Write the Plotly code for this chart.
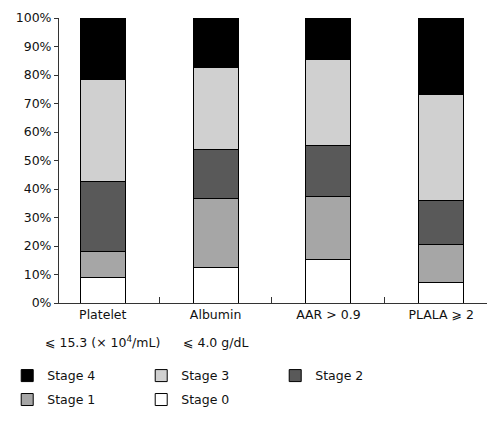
import plotly.graph_objects as go

categories = ["Platelet", "Albumin", "AAR > 0.9", "PLALA ⩾ 2"]
sublabels = ["⩽ 15.3 (× 10<sup>4</sup>/mL)", "⩽ 4.0 g/dL", "", ""]
stages = ["Stage 0", "Stage 1", "Stage 2", "Stage 3", "Stage 4"]
stage0 = [8.8, 12.3, 15.1, 7.2]
stage1 = [9.4, 24.2, 22.3, 13.5]
stage2 = [24.3, 17.3, 17.8, 15.1]
stage3 = [35.9, 28.7, 30.4, 37.5]
stage4 = [21.6, 17.5, 14.4, 26.7]
series = [stage0, stage1, stage2, stage3, stage4]
colors = ["#ffffff", "#a6a6a6", "#595959", "#d0d0d0", "#000000"]
legend_rows = ["legend2", "legend2", "legend", "legend", "legend"]

FONT = "DejaVu Sans"
TXT = "#111111"
AX = "#333333"

fig = go.Figure()
for name, vals, col, lg in zip(stages, series, colors, legend_rows):
    fig.add_trace(go.Bar(
        x=categories, y=vals, name=name, legend=lg,
        marker=dict(color=col, line=dict(color="#000000", width=1)),
        width=0.4,
    ))

for cat, sub in zip(categories, sublabels):
    if sub:
        fig.add_annotation(x=cat, xref="x", y=-0.137, yref="paper",
                           text=sub, showarrow=False, yanchor="middle",
                           font=dict(family=FONT, size=12.5, color=TXT))

legfont = dict(family=FONT, size=12.5, color=TXT)
fig.update_layout(
    width=492, height=416,
    barmode="stack",
    paper_bgcolor="white", plot_bgcolor="white",
    margin=dict(l=51, r=13, t=10, b=121, autoexpand=False),
    font=dict(family=FONT, size=12.5, color=TXT),
    showlegend=True,
    legend=dict(orientation="h", traceorder="reversed",
                x=-0.121, xanchor="left", y=-0.256, yanchor="middle",
                entrywidth=89, font=legfont, bgcolor="rgba(0,0,0,0)"),
    legend2=dict(orientation="h", traceorder="reversed",
                 x=-0.121, xanchor="left", y=-0.340, yanchor="middle",
                 entrywidth=89, font=legfont, bgcolor="rgba(0,0,0,0)"),
    xaxis=dict(range=[-0.388, 3.406], showline=True, linecolor=AX,
               linewidth=1, ticks="inside", tickson="boundaries",
               ticklen=6, tickcolor=AX, showgrid=False,
               tickfont=dict(family=FONT, size=12.5, color=TXT)),
    yaxis=dict(range=[0, 100], dtick=10, ticksuffix="%", showline=True,
               linecolor=AX, linewidth=1, ticks="outside", ticklen=4,
               tickcolor=AX, showgrid=False, zeroline=False,
               tickfont=dict(family=FONT, size=12.5, color=TXT)),
)

fig.write_html("out.html")
